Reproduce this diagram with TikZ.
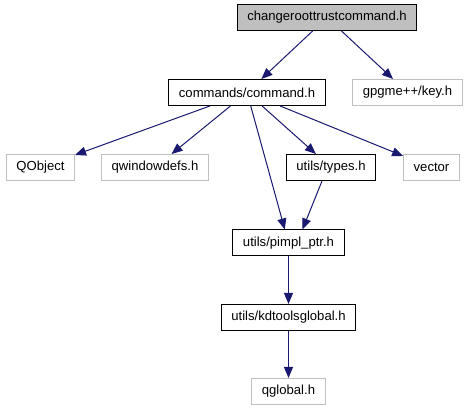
\documentclass[tikz,border=0pt]{standalone}
\usepackage{fontspec}
\setmainfont{Liberation Sans}
\usetikzlibrary{arrows.meta}
\definecolor{edgeblue}{HTML}{191970}
\definecolor{extgray}{HTML}{BFBFBF}
\tikzset{
  filebox/.style={draw=black, line width=1pt, rectangle, minimum height=26pt, inner xsep=10pt, inner ysep=0pt, font=\fontsize{13.1}{16}\selectfont, text=black},
  extbox/.style={filebox, draw=extgray},
  rootbox/.style={filebox, fill=extgray},
  dep/.style={draw=edgeblue, line width=1pt, -{Triangle[length=11pt,width=9pt]}}
}
\begin{document}
\begin{tikzpicture}[x=1pt,y=-1pt]
\useasboundingbox (0,0) rectangle (469,411);
\node[rootbox] (top) at (327,17.5) {changeroottrustcommand.h};
\node[filebox] (cmd) at (247,92.5) {commands/command.h};
\node[extbox] (gpgme) at (407.5,92.5) {gpgme++/key.h};
\node[extbox] (qobject) at (40.5,167.5) {QObject};
\node[extbox] (qwin) at (155,167.5) {qwindowdefs.h};
\node[filebox] (types) at (331,167.5) {utils/types.h};
\node[extbox] (vector) at (431.5,167.5) {vector};
\node[filebox] (pimpl) at (288.5,243) {utils/pimpl\_ptr.h};
\node[filebox] (kdtools) at (288.5,317.5) {utils/kdtoolsglobal.h};
\node[extbox] (qglobal) at (288.5,391.5) {qglobal.h};
\draw[dep] (top) -- (cmd);
\draw[dep] (top) -- (gpgme);
\draw[dep] (cmd) -- (qobject);
\draw[dep] (cmd) -- (qwin);
\draw[dep] (cmd) -- (pimpl);
\draw[dep] (cmd) -- (types);
\draw[dep] (cmd) -- (vector);
\draw[dep] ([xshift=-9pt]types.south) -- ([xshift=14pt]pimpl.north);
\draw[dep] (pimpl) -- (kdtools);
\draw[dep] (kdtools) -- (qglobal);
\end{tikzpicture}
\end{document}
